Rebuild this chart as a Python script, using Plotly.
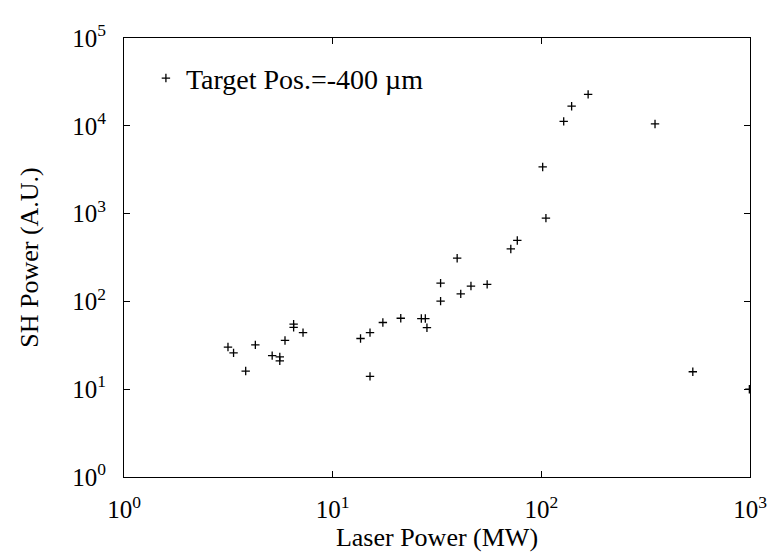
import plotly.graph_objects as go

laser_power = [3.15, 3.35, 3.83, 4.26, 5.13, 5.58, 5.58, 5.91, 6.50, 6.50, 7.21,
               13.6, 15.1, 15.1, 17.4, 21.2, 26.6, 27.8, 28.3, 32.9, 32.9, 39.5,
               41.1, 46.0, 55.0, 71.4, 76.7, 101.5, 105.2, 128.0, 139.7, 167.6,
               350.6, 532.0, 993.0]
sh_power = [30.2, 25.9, 16.1, 32.0, 24.1, 21.0, 23.3, 35.9, 55.1, 50.6, 44.1,
            37.8, 44.1, 14.0, 57.5, 64.3, 63.8, 63.8, 50.2, 161.6, 100.8, 310.6,
            121.7, 149.6, 156.3, 395.9, 494.5, 3399, 888, 11230, 16710, 22780,
            10500, 15.8, 10.0]

x_tickvals = [1, 10, 100, 1000]
x_ticktext = ["10<sup>0</sup>", "10<sup>1</sup>", "10<sup>2</sup>", "10<sup>3</sup>"]
y_tickvals = [1, 10, 100, 1000, 10000, 100000]
y_ticktext = ["10<sup>0</sup>", "10<sup>1</sup>", "10<sup>2</sup>", "10<sup>3</sup>",
              "10<sup>4</sup>", "10<sup>5</sup>"]

font_family = "Liberation Serif"

fig = go.Figure()
fig.add_trace(go.Scatter(
    x=laser_power, y=sh_power, mode="markers",
    name="Target Pos.=-400 \u00b5m",
    marker=dict(symbol="cross-thin", size=6, line=dict(color="black", width=1.3), color="black"),
))

# The page body has an 8px default margin, so the figure is sized/offset to compensate.
fig.update_layout(
    width=771, height=551,
    margin=dict(l=116, r=21, t=23, b=82),
    paper_bgcolor="white", plot_bgcolor="white",
    font=dict(family=font_family, size=25, color="black"),
    showlegend=True,
    legend=dict(x=0.035, y=0.965, xanchor="left", yanchor="top",
                bgcolor="rgba(0,0,0,0)", font=dict(size=28, family=font_family),
                itemsizing="trace", itemwidth=30),
    xaxis=dict(type="log", range=[0, 3], tickvals=x_tickvals, ticktext=x_ticktext,
               showgrid=False, zeroline=False, showline=True, linecolor="black", linewidth=1,
               mirror="ticks", ticks="inside", ticklen=6, tickcolor="black",
               tickfont=dict(size=25, family=font_family), ticklabelstandoff=10,
               title=dict(text="Laser Power (MW)", font=dict(size=26, family=font_family), standoff=4)),
    yaxis=dict(type="log", range=[0, 5], tickvals=y_tickvals, ticktext=y_ticktext,
               showgrid=False, zeroline=False, showline=True, linecolor="black", linewidth=1,
               mirror="ticks", ticks="inside", ticklen=6, tickcolor="black",
               tickfont=dict(size=25, family=font_family), ticklabelstandoff=12,
               title=dict(text="SH Power (A.U.)", font=dict(size=26, family=font_family), standoff=26)),
)

fig.write_html("out.html")
